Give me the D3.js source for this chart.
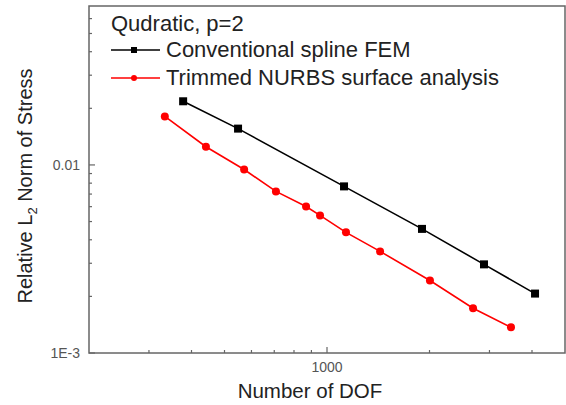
<!DOCTYPE html>
<html>
<head>
<meta charset="utf-8">
<script src="https://cdn.jsdelivr.net/npm/d3@7"></script>
<style>
  body { margin: 0; background: #fff; }
  svg { display: block; font-family: "Liberation Sans", Arial, sans-serif; }
</style>
</head>
<body>
<div id="chart"></div>
<script>
// data
var femDof = [378, 548, 1122, 1901, 2891, 4083];
var femErr = [0.0218, 0.0156, 0.00769, 0.00457, 0.00296, 0.00207];
var nurbsDof = [334, 441, 571, 708, 868, 954, 1137, 1432, 2006, 2685, 3470];
var nurbsErr = [0.0181, 0.0125, 0.00946, 0.00723, 0.00601, 0.00539, 0.00438, 0.00347, 0.00243, 0.00173, 0.00137];
var seriesNames = ["Conventional spline FEM", "Trimmed NURBS surface analysis"];
var xTickLabels = [[1000, "1000"]];
var yTickLabels = [[0.01, "0.01"], [0.001, "1E-3"]];

var W = 566, H = 405;
var margin = { top: 6, right: 1, bottom: 52, left: 89 },
    width = W - margin.left - margin.right,
    height = H - margin.top - margin.bottom;

var svg = d3.select("#chart").append("svg")
    .attr("width", W).attr("height", H);
var g = svg.append("g")
    .attr("transform", `translate(${margin.left},${margin.top})`);

var x = d3.scaleLog().domain([200, 5000]).range([0, width]);
var y = d3.scaleLog().domain([0.001, 0.07]).range([height, 0]);

var axisColor = "#666", labelColor = "#555";

// minor ticks (inward)
var xMinor = [];
[100, 1000].forEach(function (d) { for (var k = 2; k <= 9; k++) { var v = d * k; if (v > 200 && v < 5000 && v !== 1000) xMinor.push(v); } });
var yMinor = [];
[0.001, 0.01].forEach(function (d) { for (var k = 2; k <= 9; k++) { var v = d * k; if (v < 0.07) yMinor.push(v); } });

g.selectAll(".xminor").data(xMinor).enter().append("line")
    .attr("x1", d => x(d)).attr("x2", d => x(d))
    .attr("y1", height).attr("y2", height - 3)
    .attr("stroke", axisColor).attr("stroke-width", 1.2);
g.selectAll(".xmajor").data(xTickLabels).enter().append("line")
    .attr("x1", d => x(d[0])).attr("x2", d => x(d[0]))
    .attr("y1", height).attr("y2", height - 6)
    .attr("stroke", axisColor).attr("stroke-width", 1.2);
g.selectAll(".yminor").data(yMinor).enter().append("line")
    .attr("x1", 0).attr("x2", 3)
    .attr("y1", d => y(d)).attr("y2", d => y(d))
    .attr("stroke", axisColor).attr("stroke-width", 1.2);
g.selectAll(".ymajor").data(yTickLabels).enter().append("line")
    .attr("x1", 0).attr("x2", 6)
    .attr("y1", d => y(d[0])).attr("y2", d => y(d[0]))
    .attr("stroke", axisColor).attr("stroke-width", 1.2);

// tick labels
g.selectAll(".xlab").data(xTickLabels).enter().append("text")
    .attr("x", d => x(d[0])).attr("y", height + 19)
    .attr("text-anchor", "middle").style("font-size", "14px")
    .attr("fill", labelColor).text(d => d[1]);
g.selectAll(".ylab").data(yTickLabels).enter().append("text")
    .attr("x", -9).attr("y", d => y(d[0]) + 5)
    .attr("text-anchor", "end").style("font-size", "14px")
    .attr("fill", labelColor).text(d => d[1]);

// frame
g.append("rect").attr("x", 0).attr("y", 0)
    .attr("width", width).attr("height", height)
    .attr("fill", "none").attr("stroke", axisColor).attr("stroke-width", 1.5);

// series
var fem = femDof.map((d, i) => [d, femErr[i]]);
var nurbs = nurbsDof.map((d, i) => [d, nurbsErr[i]]);
var line = d3.line().x(d => x(d[0])).y(d => y(d[1]));

g.append("path").datum(fem).attr("d", line)
    .attr("fill", "none").attr("stroke", "#000").attr("stroke-width", 1.6);
g.selectAll(".sq").data(fem).enter().append("rect")
    .attr("x", d => x(d[0]) - 4).attr("y", d => y(d[1]) - 4)
    .attr("width", 8).attr("height", 8).attr("fill", "#000");

g.append("path").datum(nurbs).attr("d", line)
    .attr("fill", "none").attr("stroke", "#ff0000").attr("stroke-width", 1.6);
g.selectAll(".dot").data(nurbs).enter().append("circle")
    .attr("cx", d => x(d[0])).attr("cy", d => y(d[1]))
    .attr("r", 4).attr("fill", "#ff0000");

// legend
svg.append("text").attr("x", 111).attr("y", 31)
    .style("font-size", "22px").attr("fill", "#222").text("Qudratic, p=2");
var leg = [{ c: "#000", y: 50, shape: "sq" }, { c: "#ff0000", y: 78, shape: "dot" }];
leg.forEach(function (l, i) {
  svg.append("line").attr("x1", 111).attr("x2", 160).attr("y1", l.y).attr("y2", l.y)
      .attr("stroke", l.c).attr("stroke-width", 1.6);
  if (l.shape === "sq") {
    svg.append("rect").attr("x", 131).attr("y", l.y - 3).attr("width", 6).attr("height", 6).attr("fill", l.c);
  } else {
    svg.append("circle").attr("cx", 134).attr("cy", l.y).attr("r", 3).attr("fill", l.c);
  }
  svg.append("text").attr("x", 166).attr("y", l.y + 7)
      .style("font-size", "22px").attr("fill", "#222").text(seriesNames[i]);
});

// axis titles
svg.append("text").attr("x", 310).attr("y", 398)
    .attr("text-anchor", "middle").style("font-size", "20.5px").attr("fill", "#222")
    .text("Number of DOF");
var yt = svg.append("text")
    .attr("transform", "translate(32,186) rotate(-90)")
    .attr("text-anchor", "middle").style("font-size", "20px").attr("fill", "#222");
yt.append("tspan").text("Relative L");
yt.append("tspan").attr("dy", 5).style("font-size", "13px").text("2");
yt.append("tspan").attr("dy", -5).text(" Norm of Stress");
</script>
</body>
</html>
